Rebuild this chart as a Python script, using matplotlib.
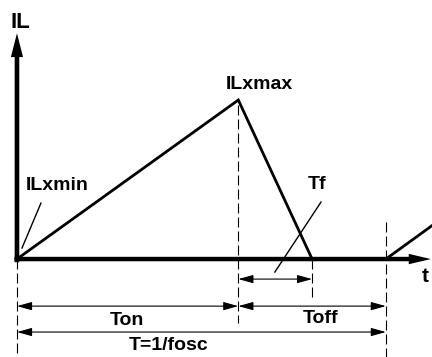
import matplotlib
matplotlib.use("Agg")
import matplotlib.pyplot as plt

# inductor current waveform (time in units of T, current in units of ILxmax)
wave_t = [0.0, 0.6, 0.8, 1.0, 1.125]
wave_i = [0.0, 1.0, 0.0, 0.0, 0.21]
t_on = 0.6
t_fall = 0.8
period = 1.0
il_max = 1.0

# dimension arrow levels (below the time axis)
tf_level = -0.126
ton_level = -0.296
t_level = -0.459

plt.rcParams['font.family'] = ['Liberation Sans', 'DejaVu Sans']
plt.rcParams['font.weight'] = 'bold'

fig = plt.figure(figsize=(4.32, 3.57), dpi=100)
ax = fig.add_axes([0, 0, 1, 1])
ax.set_xlim(-0.046, 1.125)
ax.set_ylim(-0.616, 1.629)
ax.axis('off')

# axes with arrows
ax.arrow(0, -0.02, 0, 1.44, width=0.0125, head_width=0.033, head_length=0.15,
         length_includes_head=True, color='k', lw=0)
ax.arrow(-0.007, 0, 1.129, 0, width=0.028, head_width=0.065, head_length=0.06,
         length_includes_head=True, color='k', lw=0)

# waveform
ax.plot(wave_t, wave_i, color='k', lw=2.0, solid_joinstyle='miter')

# dashed guides
dash = (0, (9, 3.6))
ax.plot([0, 0], [0, -0.616], color='k', lw=0.8, ls=dash)
ax.plot([t_on, t_on], [il_max - 0.03, -0.40], color='k', lw=0.8, ls=dash)
ax.plot([t_fall, t_fall], [0, -0.245], color='k', lw=0.8, ls=dash)
ax.plot([period, period], [0.233, -0.616], color='k', lw=0.8, ls=dash)

# dimension arrows
def dim(x0, x1, y):
    ax.annotate('', xy=(x1, y), xytext=(x0, y),
                arrowprops=dict(arrowstyle='<|-|>,head_length=0.9,head_width=0.25',
                                mutation_scale=10, lw=0.8, color='k',
                                shrinkA=0, shrinkB=0))

dim(t_on, t_fall, tf_level)
dim(0, t_on, ton_level)
dim(t_on, period, ton_level)
dim(0, period, t_level)

# leader lines
ax.plot([0.065, 0.0136], [0.352, 0.069], color='k', lw=1.0)
ax.plot([0.824, 0.699], [0.358, -0.082], color='k', lw=1.0)

# labels
ax.text(0.008, 1.49, 'IL', fontsize=16, ha='center', va='center')
ax.text(0.108, 0.465, 'ILxmin', fontsize=14, ha='center', va='center')
ax.text(0.656, 1.10, 'ILxmax', fontsize=14, ha='center', va='center')
ax.text(0.813, 0.47, 'Tf', fontsize=14, ha='center', va='center')
ax.text(1.106, -0.11, 't', fontsize=15, ha='center', va='center')
ax.text(0.298, -0.384, 'Ton', fontsize=14, ha='center', va='center')
ax.text(0.824, -0.371, 'Toff', fontsize=14, ha='center', va='center')
ax.text(0.412, -0.541, 'T=1/fosc', fontsize=14, ha='center', va='center')

fig.savefig('out.png', dpi=100)
